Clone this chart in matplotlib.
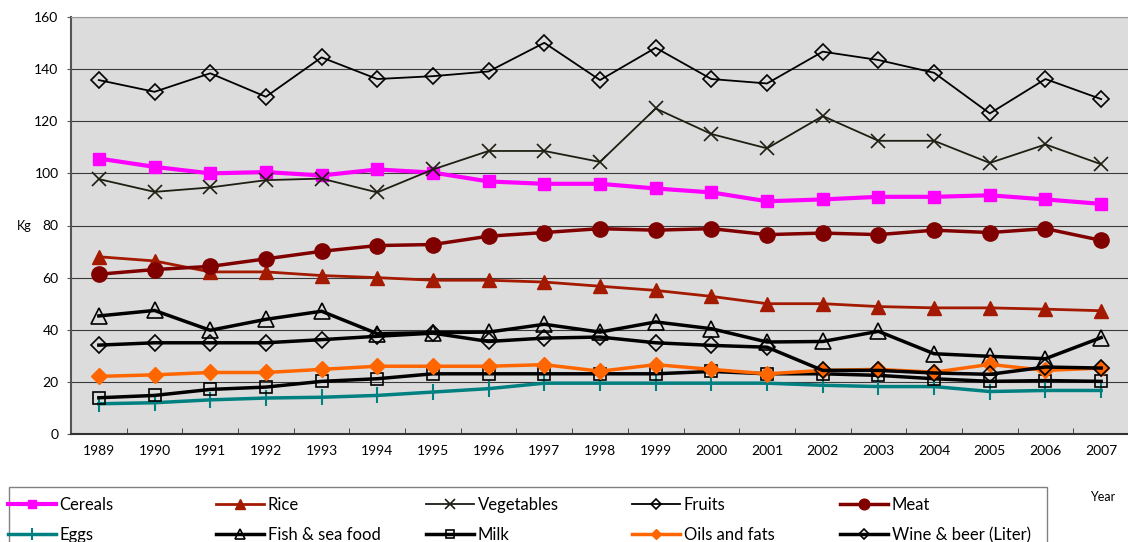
import matplotlib
matplotlib.use("Agg")
import matplotlib.pyplot as plt
from matplotlib.patches import Rectangle

plt.rcParams['font.family'] = ['Lato', 'DejaVu Sans']

years = list(range(1989, 2008))

cereals = [105.7, 102.5, 100.0, 100.5, 99.2, 101.5, 100.3, 96.9, 96.0, 96.0,
           94.2, 92.7, 89.3, 90.0, 91.0, 91.0, 91.6, 90.0, 88.3]
rice = [68.0, 66.4, 62.2, 62.2, 60.8, 60.0, 59.0, 59.0, 58.3, 56.7,
        55.1, 52.8, 50.0, 50.0, 48.9, 48.4, 48.4, 47.9, 47.3]
vegetables = [97.8, 92.9, 94.6, 97.4, 98.0, 92.7, 101.5, 108.6, 108.6, 104.4,
              124.9, 115.1, 109.6, 122.0, 112.5, 112.5, 104.0, 111.1, 103.5]
fruits = [135.8, 131.3, 138.4, 129.4, 144.5, 136.2, 137.3, 139.1, 150.1, 135.8,
          148.2, 136.2, 134.5, 146.7, 143.5, 138.6, 123.0, 136.2, 128.5]
meat = [61.3, 63.1, 64.3, 67.2, 70.1, 72.3, 72.7, 75.9, 77.3, 78.8,
        78.2, 78.8, 76.5, 77.1, 76.5, 78.2, 77.3, 78.8, 74.3]
eggs = [11.6, 12.0, 13.1, 13.8, 14.1, 14.8, 16.1, 17.4, 19.5, 19.5,
        19.5, 19.5, 19.5, 18.7, 18.2, 18.2, 16.3, 16.7, 16.7]
fish = [45.3, 47.4, 39.8, 44.0, 47.1, 38.5, 38.9, 39.1, 42.1, 39.1,
        43.0, 40.4, 35.3, 35.5, 39.4, 30.8, 29.8, 28.9, 37.0]
milk = [13.9, 14.8, 17.1, 18.0, 20.2, 21.2, 23.1, 23.1, 23.1, 23.1,
        23.1, 24.0, 23.1, 23.1, 22.5, 21.2, 20.2, 20.5, 20.2]
oils = [22.1, 22.7, 23.6, 23.6, 24.8, 26.0, 26.0, 26.0, 26.6, 24.1,
        26.6, 24.8, 23.1, 24.4, 24.8, 23.7, 26.7, 24.4, 25.3]
wine = [34.1, 35.0, 35.0, 35.0, 36.2, 37.5, 38.7, 35.5, 36.8, 37.2,
        35.0, 34.0, 33.3, 24.4, 24.4, 23.4, 22.9, 25.7, 25.3]

fig = plt.figure(figsize=(11.28, 5.42), dpi=100)
ax = fig.add_axes([71/1128, 108/542, 1058/1128, 417/542])
ax.set_facecolor('#dcdcdc')

h = {}
h['Cereals'], = ax.plot(years, cereals, color='#ff00ff', lw=3, marker='s', ms=9)
h['Rice'], = ax.plot(years, rice, color='#a31a00', lw=2, marker='^', ms=10)
h['Vegetables'], = ax.plot(years, vegetables, color='#1e1e12', lw=1.3, marker='x', ms=10, mew=1.2)
h['Fruits'], = ax.plot(years, fruits, color='black', lw=1.3, marker='D', ms=8,
                       mfc='none', mec='black', mew=1.2)
h['Meat'], = ax.plot(years, meat, color='#800000', lw=2.5, marker='o', ms=11)
h['Eggs'], = ax.plot(years, eggs, color='#008080', lw=2.5, marker='|', ms=12, mew=1.5)
h['Fish & sea food'], = ax.plot(years, fish, color='black', lw=2.5, marker='^', ms=11,
                                mfc='none', mec='black', mew=1.2)
h['Milk'], = ax.plot(years, milk, color='black', lw=2.5, marker='s', ms=9,
                     mfc='none', mec='black', mew=1.2)
h['Oils and fats'], = ax.plot(years, oils, color='#ff6600', lw=2.5, marker='D', ms=8)
h['Wine & beer (Liter)'], = ax.plot(years, wine, color='black', lw=2.5, marker='D', ms=8,
                                    mfc='none', mec='black', mew=1.2)

ax.set_xlim(1988.5, 2007.5)
ax.set_ylim(0, 160)
ax.set_xticks(years)
ax.set_xticklabels([str(y) for y in years], fontsize=10)
ax.set_xticks([y + 0.5 for y in years[:-1]], minor=True)
ax.tick_params(axis='x', which='major', length=0, pad=8)
ax.tick_params(axis='x', which='minor', direction='in', length=4, color='#333333')
ax.set_yticks(range(0, 161, 20))
ax.tick_params(axis='y', labelsize=10, length=3, color='#555555', pad=6)
ax.yaxis.grid(True, color='#3a3a3a', lw=0.8)
ax.set_axisbelow(True)
ax.spines['right'].set_visible(False)
ax.spines['top'].set_color('#999999')
ax.spines['left'].set_color('#555555')
ax.spines['left'].set_linewidth(1.5)
ax.spines['bottom'].set_color('#333333')
ax.spines['bottom'].set_linewidth(1.5)

fig.text(17/1128, 1 - 226/542, 'Kg', fontsize=9, va='center', ha='left')
fig.text(1090/1128, 1 - 497/542, 'Year', fontsize=9, va='center', ha='left')

# legend frame (bottom edge runs off the figure)
fig.patches.append(Rectangle((9/1128, -0.05), (1047 - 9)/1128, 0.05 + 55/542,
                             transform=fig.transFigure, fill=False,
                             edgecolor='#808080', lw=1))

columns = [['Cereals', 'Eggs'], ['Rice', 'Fish & sea food'], ['Vegetables', 'Milk'],
           ['Fruits', 'Oils and fats'], ['Meat', 'Wine & beer (Liter)']]
col_x = [8, 216, 426, 632, 840]
for cx, col in zip(col_x, columns):
    leg = fig.legend([h[k] for k in col], col, loc='upper left',
                     bbox_to_anchor=(cx/1128, 1 - 497/542), frameon=False,
                     fontsize=12, handlelength=2.9, handletextpad=0.2,
                     labelspacing=0.85, markerscale=0.7,
                     borderaxespad=0, borderpad=0)

fig.savefig('out.png', dpi=100)
